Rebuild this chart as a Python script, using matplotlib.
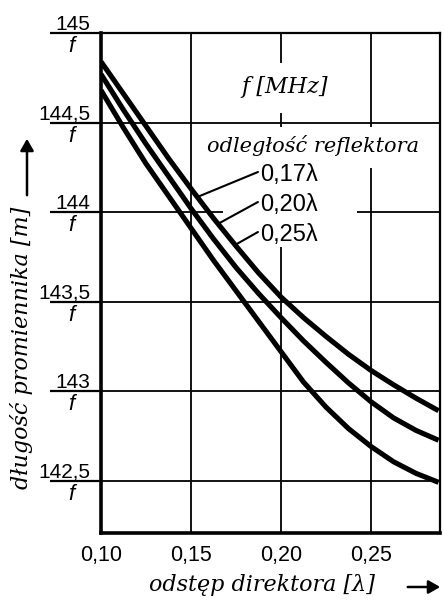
import matplotlib
matplotlib.use("Agg")
import matplotlib.pyplot as plt
import numpy as np
from matplotlib.patches import Rectangle, FancyArrowPatch

# ---------------- data ----------------
x_dir = [0.10, 0.1125, 0.125, 0.1375, 0.15, 0.1625, 0.175, 0.1875,
         0.20, 0.2125, 0.225, 0.2375, 0.25, 0.2625, 0.275, 0.2875]
y_017 = [144.84, 144.66, 144.48, 144.30, 144.13, 143.965, 143.81, 143.66,
         143.525, 143.41, 143.305, 143.205, 143.115, 143.035, 142.96, 142.89]
y_020 = [144.77, 144.57, 144.38, 144.20, 144.02, 143.85, 143.69, 143.545,
         143.41, 143.28, 143.16, 143.045, 142.94, 142.85, 142.78, 142.725]
y_025 = [144.68, 144.47, 144.27, 144.09, 143.91, 143.73, 143.56, 143.39,
         143.22, 143.05, 142.91, 142.79, 142.69, 142.605, 142.54, 142.49]
series_labels = ["0,17\u03bb", "0,20\u03bb", "0,25\u03bb"]

x_ticks = [0.10, 0.15, 0.20, 0.25]
x_tick_labels = ["0,10", "0,15", "0,20", "0,25"]
y_ticks = [142.5, 143.0, 143.5, 144.0, 144.5, 145.0]
y_tick_labels = ["142,5", "143", "143,5", "144", "144,5", "145"]

SANS = ["Liberation Sans", "DejaVu Sans"]
SERIF = ["DejaVu Serif", "Liberation Serif"]

W, H = 444, 605
fig = plt.figure(figsize=(W / 100, H / 100), dpi=100)
fig.patch.set_facecolor("white")
ax = fig.add_axes([101 / W, 72 / H, 339 / W, 500 / H])
ax.set_xlim(0.10, 0.2883)
ax.set_ylim(142.207, 145.0)

# grid
ax.set_axisbelow(True)
ax.grid(True, color="black", linewidth=1.3)
ax.set_xticks(x_ticks)
ax.set_xticklabels(x_tick_labels, fontsize=15.5, family=SANS)
ax.tick_params(axis="x", length=0, pad=9)
ax.set_yticks(y_ticks)
ax.tick_params(axis="y", length=36.7, width=1.6, direction="out",
               labelleft=False, color="black")
for s in ["left", "bottom"]:
    ax.spines[s].set_linewidth(2.6)
for s in ["top", "right"]:
    ax.spines[s].set_linewidth(1.6)

# white boxes that interrupt the grid behind the texts
for (x0, y0, w, h) in [(0.395, 0.84, 0.295, 0.10),
                       (0.322, 0.73, 0.62, 0.082),
                       (0.36, 0.572, 0.395, 0.16)]:
    ax.add_patch(Rectangle((x0, y0), w, h, transform=ax.transAxes,
                           facecolor="white", edgecolor="none", zorder=1))

# curves
for ys in (y_017, y_020, y_025):
    ax.plot(x_dir, ys, color="black", linewidth=3.7, zorder=3,
            solid_capstyle="butt", solid_joinstyle="round")

# y tick fractions
ytr = ax.get_yaxis_transform()
for v, lab in zip(y_ticks, y_tick_labels):
    ax.annotate(lab, xy=(-0.031, v), xycoords=ytr, xytext=(0, 3),
                textcoords="offset pixels", ha="right", va="baseline",
                fontsize=15, family=SANS, annotation_clip=False)
    ax.annotate("f", xy=(-0.088, v), xycoords=ytr, xytext=(0, -3),
                textcoords="offset pixels", ha="center", va="top",
                fontsize=16, family=SANS, style="italic",
                annotation_clip=False)

# in-plot texts
ax.text(0.543, 0.893, "f [MHz]", transform=ax.transAxes, ha="center",
        va="center", fontsize=16, family=SERIF, style="italic", zorder=4)
ax.text(0.625, 0.774, "odległość reflektora", transform=ax.transAxes,
        ha="center", va="center", fontsize=15, family=SERIF,
        style="italic", zorder=4)

label_y = [0.716, 0.656, 0.596]
leader_x = [0.1535, 0.165, 0.1745]
for lab, ly, lx in zip(series_labels, label_y, leader_x):
    ax.text(0.468, ly, lab, transform=ax.transAxes, ha="left",
            va="center", fontsize=17, family=SANS, zorder=4)
    yy = float(np.interp(lx, x_dir, y_017))
    ax.annotate("", xy=(lx, yy), xycoords="data",
                xytext=(0.463, ly + 0.006), textcoords=ax.transAxes,
                arrowprops=dict(arrowstyle="-", color="black", lw=1.5,
                                shrinkA=0, shrinkB=0), zorder=4)

# axis titles
fig.text(262 / W, 1 - 585 / H, "odstęp direktora [\u03bb]", ha="center",
         va="center", fontsize=16, family=SERIF, style="italic")
fig.text(22 / W, 1 - 348 / H, "długość promiennika [m]", ha="center",
         va="center", fontsize=16, family=SERIF, style="italic",
         rotation=90)

# arrows
fig.add_artist(FancyArrowPatch(
    (405 / W, 1 - 587 / H), (443 / W, 1 - 587 / H),
    transform=fig.transFigure, arrowstyle="-|>,head_length=7,head_width=4",
    color="black", lw=1.8, mutation_scale=1))
fig.add_artist(FancyArrowPatch(
    (27 / W, 1 - 198 / H), (27 / W, 1 - 136 / H),
    transform=fig.transFigure, arrowstyle="-|>,head_length=7,head_width=4",
    color="black", lw=1.8, mutation_scale=1))

fig.savefig("out.png", dpi=100, facecolor="white")
